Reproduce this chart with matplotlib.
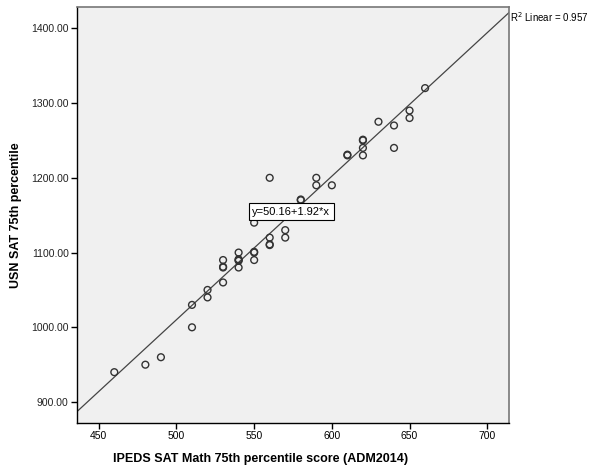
import matplotlib
matplotlib.use("Agg")
import matplotlib.pyplot as plt
import numpy as np

plt.rcParams['font.family'] = ['Liberation Sans', 'DejaVu Sans']

# IPEDS SAT Math 75th percentile vs. USN SAT 75th percentile
ipeds_math = [460, 480, 490, 510, 510, 520, 520,
              530, 530, 530, 530,
              540, 540, 540, 540, 540,
              550, 550, 550, 550,
              560, 560, 560, 560,
              570, 570, 580, 580,
              590, 590, 600,
              610, 610,
              620, 620, 620, 620,
              630, 640, 640, 650, 650, 660]
usn_sat = [940, 950, 960, 1000, 1030, 1050, 1040,
           1090, 1080, 1081, 1060,
           1100, 1090, 1091, 1080, 1089,
           1100, 1101, 1090, 1140,
           1120, 1110, 1111, 1200,
           1130, 1120, 1170, 1171,
           1200, 1190, 1190,
           1230, 1231,
           1250, 1251, 1240, 1230,
           1275, 1270, 1240, 1290, 1280, 1320]

intercept = 50.16
slope = 1.92
r_squared = 0.957

x_ticks = [450, 500, 550, 600, 650, 700]
y_ticks = [900, 1000, 1100, 1200, 1300, 1400]
x_range = (436, 714)
y_range = (872, 1428.5)

fig = plt.figure(figsize=(5.89, 4.70), dpi=100)
ax = fig.add_axes([77 / 589, 47 / 470, 432 / 589, 416 / 470])
ax.set_facecolor('#f0f0f0')

ax.scatter(ipeds_math, usn_sat, s=24, facecolors='none', edgecolors='#333333',
           linewidths=1.0, zorder=3)

xs = np.array(x_range)
ax.plot(xs, intercept + slope * xs, color='#444444', linewidth=0.9, zorder=2)

ax.set_xlim(*x_range)
ax.set_ylim(*y_range)
ax.set_xticks(x_ticks)
ax.set_yticks(y_ticks)
ax.set_xticklabels([str(v) for v in x_ticks], fontsize=7.5)
ax.set_yticklabels([f"{v:.2f}" for v in y_ticks], fontsize=7.5, color='#222222')
ax.tick_params(axis='both', direction='out', length=4, width=1, color='black',
               pad=2)

for side in ('left', 'bottom'):
    ax.spines[side].set_color('black')
    ax.spines[side].set_linewidth(1.0)
for side in ('top', 'right'):
    ax.spines[side].set_color('#777777')
    ax.spines[side].set_linewidth(1.2)

ax.set_xlabel('IPEDS SAT Math 75th percentile score (ADM2014)', fontsize=9,
              fontweight='bold', va='center')
ax.xaxis.set_label_coords(0.424, -0.087)
ax.set_ylabel('USN SAT 75th percentile', fontsize=9, fontweight='bold',
              va='center')
ax.yaxis.set_label_coords(-0.142, 0.5)

ax.text(548.8, 1154.5, f"y={intercept:.2f}+{slope:.2f}*x", fontsize=8,
        ha='left', va='center', zorder=5,
        bbox=dict(boxstyle='square,pad=0.3', facecolor='white',
                  edgecolor='black', linewidth=0.8))

ax.text(1.002, 0.975, f"R$^2$ Linear = {r_squared:.3f}", transform=ax.transAxes,
        fontsize=7, ha='left', va='center', clip_on=False)

fig.savefig('out.png', dpi=100)
